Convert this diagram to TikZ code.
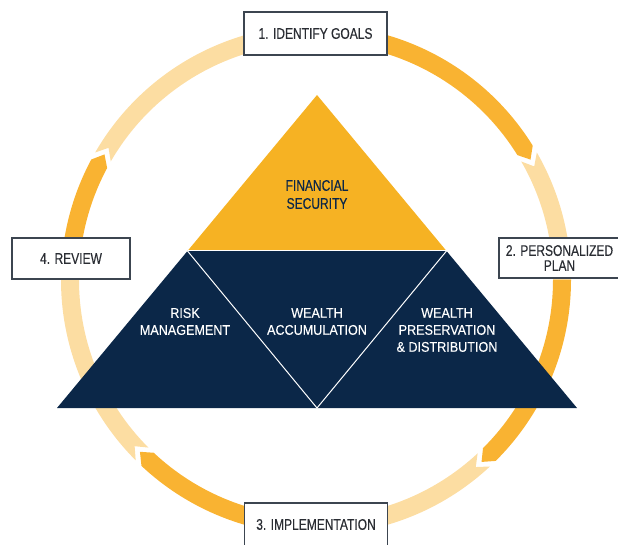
\documentclass[tikz,border=0pt]{standalone}
\usepackage{fontspec}
\setmainfont{Liberation Sans}
\newfontfamily\boxfont[FakeStretch=0.78, FakeBold=0.35]{Liberation Sans}
\newfontfamily\trifont[FakeStretch=0.9, FakeBold=0.3]{Liberation Sans}
\usetikzlibrary{positioning}

\definecolor{navy}{HTML}{0B2748}
\definecolor{gold}{HTML}{F6B223}
\definecolor{ringdark}{HTML}{F9B332}
\definecolor{ringlight}{HTML}{FCDDA2}
\definecolor{boxline}{HTML}{3C4550}
\definecolor{boxtext}{HTML}{2A2D33}

\begin{document}
\begin{tikzpicture}[
    x=1pt, y=1pt,
    every node/.style={inner sep=0pt},
    stepbox/.style={draw=boxline, line width=1.2pt, fill=white, minimum width=143pt, minimum height=43pt, align=center, text=boxtext, font=\boxfont\fontsize{15.4}{15}\selectfont},
    tritext/.style={align=center, text=white, font=\trifont\fontsize{14}{17}\selectfont},
    dark/.style={fill=ringdark},
    light/.style={fill=ringlight},
    divider/.style={draw=white, line width=1pt}
]
\clip (0,0) rectangle (618,544);

% Anneau
\begin{scope}[shift={(316,264)}]
\foreach \a/\g/\b in {90/30/0, 0/-47/-90, -90/-135/-180, 180/150/90}{
  % partie foncee, pointe au bout
  \fill[dark] (\a:255) arc[start angle=\a, end angle=\g+1.8, radius=255] -- (\g-0.7:246) -- (\g+1.8:237) arc[start angle=\g+1.8, end angle=\a, radius=237] -- cycle;
  % partie claire, encoche au debut
  \fill[light] (\g:255) arc[start angle=\g, end angle=\b, radius=255] -- (\b:237) arc[start angle=\b, end angle=\g, radius=237] -- (\g-2.5:246) -- cycle;
}
\end{scope}

% Pyramide
\coordinate (apex) at (317,449);
\coordinate (bl) at (57,136);
\coordinate (br) at (577,136);
\coordinate (ml) at (187.5,293);
\coordinate (mr) at (446.5,293);
\coordinate (bm) at (317,136);

\fill[gold] (apex) -- (ml) -- (mr) -- cycle;
\fill[navy] (ml) -- (mr) -- (br) -- (bl) -- cycle;
\draw[divider] (ml) -- (mr);
\draw[divider] (ml) -- (bm) -- (mr);

\node[align=center, text=navy, font=\boxfont\fontsize{15.4}{18}\selectfont] (secu) at (317,349.5) {FINANCIAL\\SECURITY};
\node[tritext] (risk) at (185,222.5) {RISK\\MANAGEMENT};
\node[tritext] (accum) at (317,222.5) {WEALTH\\ACCUMULATION};
\node[tritext] (preserv) at (447,214) {WEALTH\\PRESERVATION\\\& DISTRIBUTION};

% Etapes
\node[stepbox] (goals) at (315.5,510.5) {1. IDENTIFY GOALS};
\node[stepbox, minimum width=121pt, minimum height=40pt] (plan) at (559.5,286) {2. PERSONALIZED\\PLAN};
\node[stepbox] (impl) at (316,19.5) {3. IMPLEMENTATION};
\node[stepbox, minimum width=118pt, minimum height=41pt] (review) at (71,285.5) {4. REVIEW};

\end{tikzpicture}
\end{document}
